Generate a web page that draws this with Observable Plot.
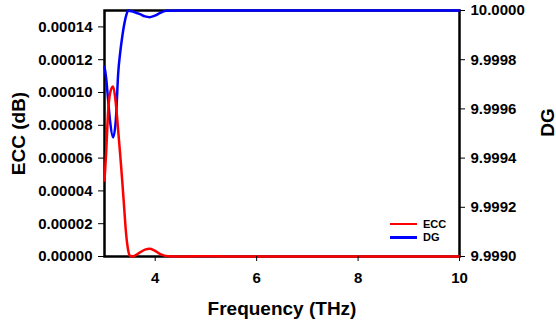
<!DOCTYPE html>
<html><head><meta charset="utf-8">
<script src="https://cdn.jsdelivr.net/npm/d3@7"></script>
<script src="https://cdn.jsdelivr.net/npm/@observablehq/plot@0.6"></script>
<style>
body{margin:0;background:#fff;}
#wrap{position:relative;width:556px;height:323px;}
#wrap svg, #wrap svg text{font-family:"Liberation Sans",Arial,sans-serif !important;font-weight:bold;}
#legend{position:absolute;left:390px;top:217px;font:bold 11px "Liberation Sans",Arial,sans-serif;color:#000;}
#legend div{display:flex;align-items:center;height:13.5px;}
#legend span.l{display:inline-block;width:27px;height:2.5px;margin-right:6px;}
</style></head>
<body><div id="wrap"><div id="legend"></div></div>
<script>
const eccFreq = [3.0,3.03,3.075,3.12,3.17,3.21,3.245,3.28,3.315,3.35,3.385,3.42,3.46,3.5,3.56,3.7,3.8,3.89,3.98,4.1,4.25,4.6,5.0,5.4,7,10];
const ecc     = [0.0000463,0.000062,0.000090,0.000101,0.0001037,0.000097,0.000086,0.000073,0.000060,0.000046,0.000031,0.000016,0.000005,0.0000005,0,0.0000025,0.0000042,0.0000047,0.0000038,0.0000015,0.0000002,0,0.0000002,0,0,0];
const dgFreq  = [3.0,3.03,3.07,3.11,3.17,3.225,3.27,3.31,3.345,3.395,3.435,3.47,3.53,3.6,3.7,3.8,3.89,3.98,4.1,4.22,4.5,10];
const dg      = [9.99977,9.99973,9.99964,9.99955,9.999484,9.99956,9.999745,9.99983,9.999886,9.99995,9.999985,10.0,9.999997,9.999993,9.999985,9.999976,9.999973,9.999978,9.99999,9.999999,10,10];
const xTicks = [4,6,8,10];
const eccTicks = [0,0.00002,0.00004,0.00006,0.00008,0.0001,0.00012,0.00014];
const dgTicks = [9.9990,9.9992,9.9994,9.9996,9.9998,10.0000];
const seriesNames = ["ECC","DG"];
const seriesColors = ["#ff0000","#0000ff"];

const dgMin = 9.999, dgSpan = 0.001, eccMax = 0.00015;
const dgToY = v => (v - dgMin) / dgSpan * eccMax;
const yToDg = v => dgMin + v / eccMax * dgSpan;

const eccData = eccFreq.map((f,i)=>({f, v: ecc[i]}));
const dgData = dgFreq.map((f,i)=>({f, v: dgToY(dg[i])}));

const plot = Plot.plot({
  width: 556, height: 323,
  marginLeft: 104, marginRight: 97, marginTop: 10, marginBottom: 67,
  style: {fontWeight: "bold", fontSize: "15px", color: "#000", background: "#fff"},
  x: {domain: [3, 10]},
  y: {domain: [0, eccMax]},
  marks: [
    Plot.frame({stroke: "#000", strokeWidth: 2.5}),
    Plot.line(dgData, {x: "f", y: "v", stroke: seriesColors[1], strokeWidth: 2.5, curve: "monotone-x"}),
    Plot.line(eccData, {x: "f", y: "v", stroke: seriesColors[0], strokeWidth: 2.5, curve: "monotone-x"}),
    Plot.axisX({ticks: xTicks, tickSize: 5, tickPadding: 11, tickFormat: d => d, label: "Frequency (THz)", labelArrow: "none", labelAnchor: "center", labelOffset: 58, fontSize: 15}),
    Plot.axisY({anchor: "left", ticks: eccTicks, tickSize: 6, tickPadding: 6, tickFormat: d => d.toFixed(5), label: "ECC (dB)", labelArrow: "none", labelAnchor: "center", labelOffset: 93, fontSize: 15}),
    Plot.axisY({anchor: "right", ticks: dgTicks.map(dgToY), tickSize: 5, tickPadding: 6, tickFormat: d => yToDg(d).toFixed(4), label: "DG", labelArrow: "none", labelAnchor: "center", labelOffset: 94, fontSize: 15})
  ]
});
const labelNames = ["Frequency (THz)","ECC (dB)","DG"];
d3.select(plot).selectAll("text").each(function(){
  const t = this.textContent.replace(/[→←↑↓]/g,"").trim();
  if (labelNames.includes(t)) {
    this.textContent = t;
    this.style.fontSize = "19px";
    if (t === "DG") {
      const tr = this.getAttribute("transform") || "";
      this.setAttribute("transform", tr + " translate(11,0)");
    }
  }
});
document.getElementById("wrap").prepend(plot);

const leg = document.getElementById("legend");
seriesNames.forEach((n,i)=>{
  const d = document.createElement("div");
  d.innerHTML = `<span class="l" style="background:${seriesColors[i]}"></span>${n}`;
  leg.appendChild(d);
});
</script></body></html>
